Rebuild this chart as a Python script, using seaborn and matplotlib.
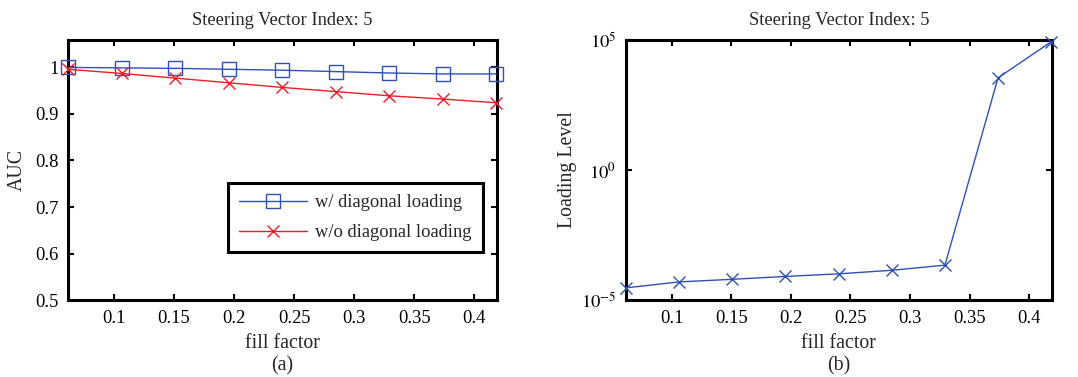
import matplotlib
matplotlib.use("Agg")
import matplotlib.pyplot as plt
import seaborn as sns
import numpy as np
import pandas as pd

fill_factor = [0.0617, 0.1063, 0.1509, 0.1955, 0.2401, 0.2847, 0.3293, 0.3739, 0.4185]
auc_with = [1.000, 0.999, 0.998, 0.996, 0.994, 0.991, 0.988, 0.986, 0.986]
auc_without = [0.996, 0.987, 0.977, 0.967, 0.957, 0.948, 0.939, 0.932, 0.924]
loading_level = [2.95e-5, 5.0e-5, 6.3e-5, 8.1e-5, 1.02e-4, 1.4e-4, 2.2e-4, 3.5e3, 8.5e4]

series_labels = ["w/ diagonal loading", "w/o diagonal loading"]
title_text = "Steering Vector Index: 5"

sns.set_theme(style="white")
plt.rcParams['font.family'] = ['Liberation Serif', 'DejaVu Serif']
plt.rcParams['mathtext.fontset'] = 'stix'

blue = "#3050b4"
red = "#ee1c25"
fs = 13.3
fs_lab = 14.3

fig = plt.figure(figsize=(10.78, 3.77), dpi=100)
ax1 = fig.add_axes([0.0631, 0.204, 0.398, 0.690])
ax2 = fig.add_axes([0.5807, 0.204, 0.395, 0.690])

sns.lineplot(x=fill_factor, y=auc_with, color=blue, marker="s",
             markersize=9.5, markerfacecolor="none", markeredgecolor=blue,
             markeredgewidth=1.0, linewidth=1.0, ax=ax1, label=series_labels[0],
             clip_on=False, zorder=5)
sns.lineplot(x=fill_factor, y=auc_without, color=red, marker="x",
             markersize=9, markeredgecolor=red,
             markeredgewidth=1.0, linewidth=1.0, ax=ax1, label=series_labels[1],
             clip_on=False, zorder=5)

ax1.set_xlim(0.0617, 0.419)
ax1.set_ylim(0.5, 1.059)
ax1.set_xticks([0.1, 0.15, 0.2, 0.25, 0.3, 0.35, 0.4])
ax1.set_xticklabels(["0.1", "0.15", "0.2", "0.25", "0.3", "0.35", "0.4"])
ax1.set_yticks([0.5, 0.6, 0.7, 0.8, 0.9, 1.0])
ax1.set_yticklabels(["0.5", "0.6", "0.7", "0.8", "0.9", "1"])
ax1.set_xlabel("fill factor\n(a)", fontsize=fs_lab, linespacing=1.25, labelpad=5)
ax1.set_ylabel("AUC", fontsize=fs_lab, labelpad=6)
ax1.set_title(title_text, fontsize=fs, pad=11)

leg = ax1.legend(loc="upper right", bbox_to_anchor=(0.967, 0.45), fontsize=fs,
                 frameon=True, fancybox=False, framealpha=1, edgecolor="black",
                 handlelength=3.7, borderpad=0.6, labelspacing=0.7, handletextpad=0.45,
                 borderaxespad=0)
leg.get_frame().set_linewidth(2.2)

sns.lineplot(x=fill_factor, y=loading_level, color=blue, marker="x",
             markersize=9, markeredgewidth=1.0, markeredgecolor=blue,
             linewidth=1.0, ax=ax2, clip_on=False, zorder=5)
ax2.set_yscale("log")
ax2.set_xlim(0.0617, 0.419)
ax2.set_ylim(1e-5, 1e5)
ax2.set_xticks([0.1, 0.15, 0.2, 0.25, 0.3, 0.35, 0.4])
ax2.set_xticklabels(["0.1", "0.15", "0.2", "0.25", "0.3", "0.35", "0.4"])
ax2.set_yticks([1e-5, 1e0, 1e5])
ax2.set_yticklabels([r"$10^{-5}$", r"$10^{0}$", r"$10^{5}$"])
ax2.yaxis.set_minor_locator(matplotlib.ticker.NullLocator())
ax2.set_xlabel("fill factor\n(b)", fontsize=fs_lab, linespacing=1.25, labelpad=5)
ax2.set_ylabel("Loading Level", fontsize=fs_lab, labelpad=3)
ax2.set_title(title_text, fontsize=fs, pad=11)

for ax in (ax1, ax2):
    for s in ax.spines.values():
        s.set_visible(True)
        s.set_color("black")
        s.set_linewidth(2.2)
    ax.tick_params(axis="both", which="major", direction="in", length=4, width=1.5,
                   top=True, right=True, bottom=True, left=True,
                   labelsize=fs, colors="black", pad=7)
    ax.set_facecolor("white")

fig.savefig("out.png", dpi=100, facecolor="white")
